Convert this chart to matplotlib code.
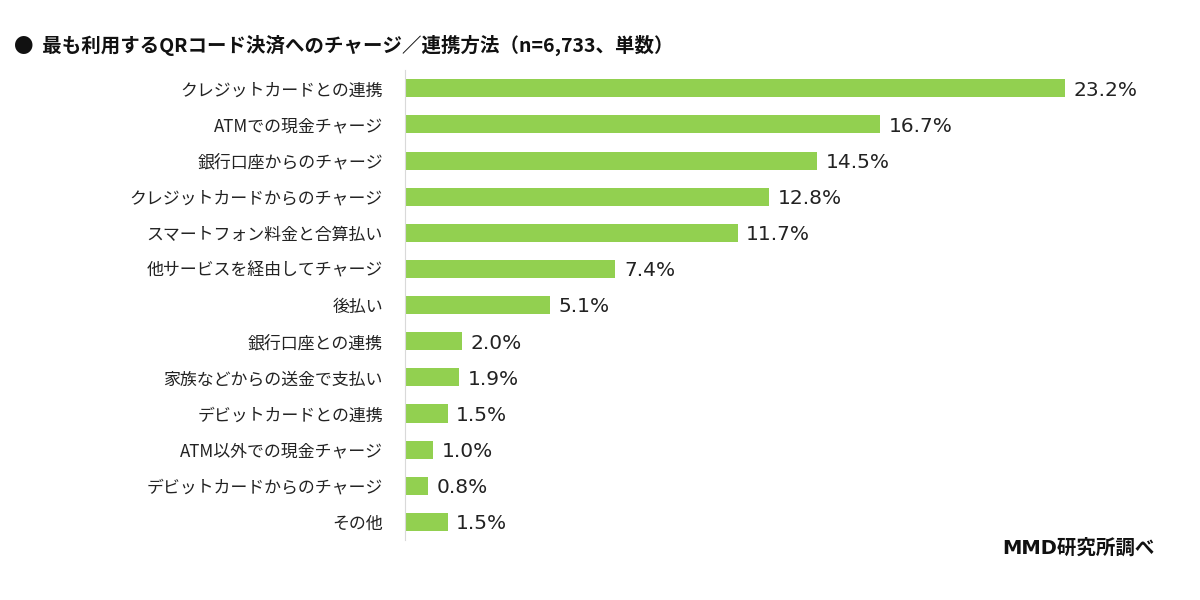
import matplotlib
matplotlib.use('Agg')
from matplotlib import pyplot as plt

plt.rcParams['font.family'] = ['Noto Sans CJK JP', 'DejaVu Sans']

categories = ['クレジットカードとの連携', 'ATMでの現金チャージ', '銀行口座からのチャージ',
              'クレジットカードからのチャージ', 'スマートフォン料金と合算払い',
              '他サービスを経由してチャージ', '後払い', '銀行口座との連携',
              '家族などからの送金で支払い', 'デビットカードとの連携',
              'ATM以外での現金チャージ', 'デビットカードからのチャージ', 'その他']
values = [23.2, 16.7, 14.5, 12.8, 11.7, 7.4, 5.1, 2.0, 1.9, 1.5, 1.0, 0.8, 1.5]

title = '●  最も利用するQRコード決済へのチャージ／連携方法（n=6,733、単数）'
source = 'MMD研究所調べ'

fig = plt.figure(figsize=(12, 6), dpi=100)
ax = fig.add_axes([0.3375, 0.1, 0.6208, 0.783])

ypos = list(range(len(categories)))
ax.barh(ypos, values, height=0.5, color='#92D050')
for y, v in zip(ypos, values):
    ax.text(v + 0.3, y + 0.05, f'{v:.1f}%', va='center', ha='left',
            fontsize=14.5, color='#222222', family=['DejaVu Sans'])

ax.set_xlim(0, 26.2)
ax.set_ylim(len(categories) - 0.5, -0.5)
ax.set_yticks(ypos)
ax.set_yticklabels(categories, fontsize=12.2, color='#222222')
ax.tick_params(axis='y', length=0, pad=16)
ax.set_xticks([])
for side in ['top', 'right', 'bottom']:
    ax.spines[side].set_visible(False)
ax.spines['left'].set_color('#d9d9d9')

fig.text(0.012, 0.925, title, fontsize=14, fontweight='bold', va='center',
         color='#111111')
fig.text(0.962, 0.087, source, fontsize=14, fontweight='bold', ha='right',
         va='center', color='#111111', family=['DejaVu Sans', 'Noto Sans CJK JP'])

fig.savefig('out.png', dpi=100)
